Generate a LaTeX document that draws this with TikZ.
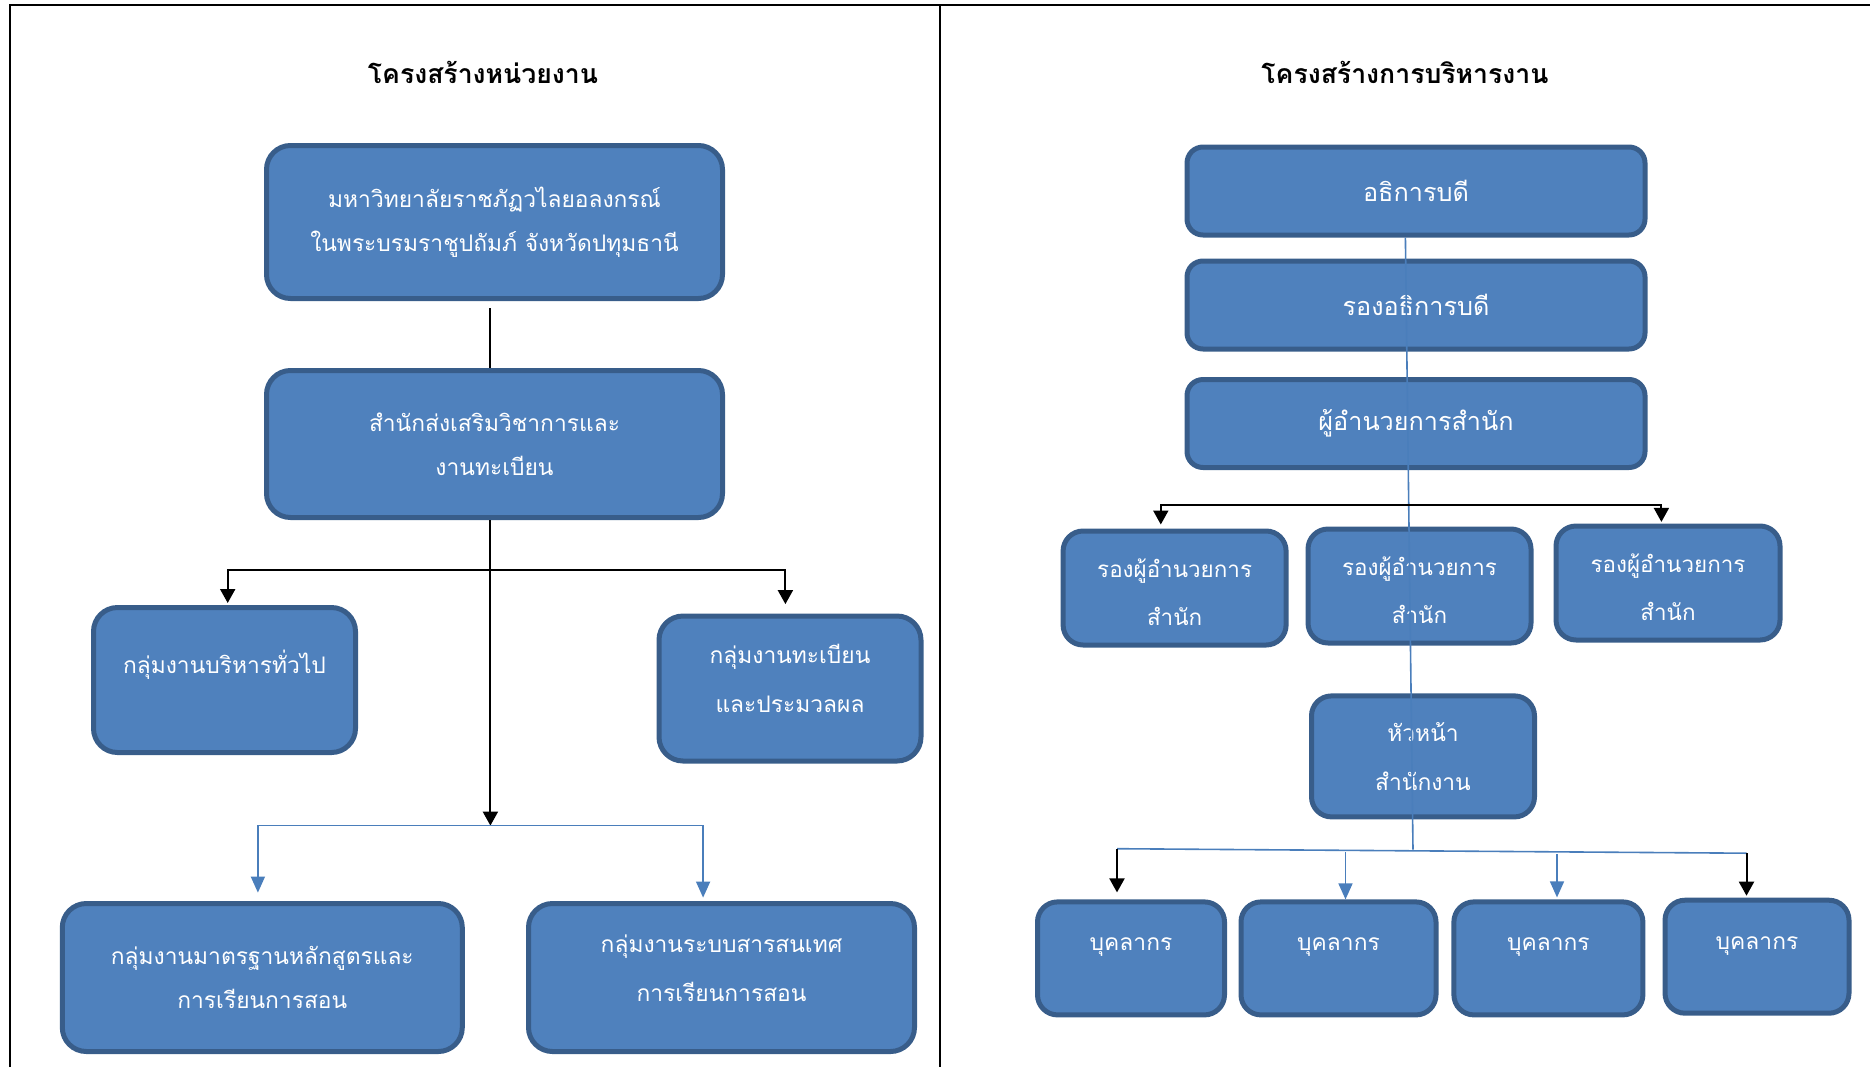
\documentclass[tikz,border=0pt]{standalone}
\usepackage{fontspec}
\newfontfamily\thai[Script=Thai]{Loma}
\usetikzlibrary{arrows.meta}

\definecolor{boxfill}{HTML}{4F81BD}
\definecolor{boxline}{HTML}{385D8A}
\definecolor{linkblue}{HTML}{4A7EBB}

\tikzset{
  unit/.style={draw=boxline, line width=2.5pt, fill=boxfill, rounded corners=12pt,
    text=white, align=center, inner sep=0pt,
    font=\thai\fontsize{11.4}{22}\selectfont},
  loose/.style={font=\thai\fontsize{11.4}{24.5}\selectfont},
  heading/.style={font=\thai\bfseries\fontsize{13.3}{16}\selectfont},
  frame/.style={line width=1pt},
  link/.style={line width=1pt},
  arrow/.style={link, -{Triangle[width=7.5pt,length=7pt]}},
  bluelink/.style={draw=linkblue, line width=0.8pt},
  bluearrow/.style={bluelink, -{Triangle[width=7pt,length=8pt]}}
}

\begin{document}
\begin{tikzpicture}[x=0.5pt, y=-0.5pt]
\useasboundingbox (0,0) rectangle (1870,1067);

% frame
\draw[frame] (9.6,1067) -- (9.6,4.8) -- (1870,4.8);
\draw[frame] (940,4.8) -- (940,1067);

\node[heading] (t1) at (483,72) {โครงสร้างหน่วยงาน};
\node[heading] (t2) at (1405,72) {โครงสร้างการบริหารงาน};

% left: units
\node[unit, minimum width=228pt, minimum height=76.5pt] (u) at (494.5,222) {มหาวิทยาลัยราชภัฏวไลยอลงกรณ์\\ในพระบรมราชูปถัมภ์ จังหวัดปทุมธานี};
\node[unit, minimum width=228pt, minimum height=73.5pt] (s) at (494.5,444) {สำนักส่งเสริมวิชาการและ\\งานทะเบียน};
\node[unit, minimum width=131pt, minimum height=72.5pt, text depth=18pt] (g1) at (224.5,680) {กลุ่มงานบริหารทั่วไป};
\node[unit, loose, minimum width=131pt, minimum height=72.5pt, text depth=10pt] (g2) at (790,688.5) {กลุ่มงานทะเบียน\\และประมวลผล};
\node[unit, minimum width=200pt, minimum height=74pt] (g3) at (262.3,977.5) {กลุ่มงานมาตรฐานหลักสูตรและ\\การเรียนการสอน};
\node[unit, loose, minimum width=193pt, minimum height=74pt, text depth=9pt] (g4) at (721.5,977.5) {กลุ่มงานระบบสารสนเทศ\\การเรียนการสอน};

\coordinate (trunk) at (490.4,569.5);
\coordinate (hubL) at (490.4,825.6);
\draw[link, shorten <=3.5pt] (u.south -| trunk) -- (s.north -| trunk);
\draw[arrow] (s.south -| trunk) -- (hubL);
\draw[arrow] (trunk) -| ([xshift=1.6pt,yshift=1pt]g1.north);
\draw[arrow] (trunk) -| ([xshift=-2.3pt,yshift=4.7pt]g2.north);
\draw[bluearrow] (hubL) -| ([xshift=-2.2pt,yshift=4.2pt]g3.north);
\draw[bluearrow] (hubL) -| ([xshift=-9.2pt,yshift=1.7pt]g4.north);

% right: administration
\node[unit, rounded corners=8pt, font=\thai\fontsize{12.6}{22}\selectfont, minimum width=229pt, minimum height=44pt] (a) at (1416,191) {อธิการบดี};
\node[unit, rounded corners=8pt, font=\thai\fontsize{12.6}{22}\selectfont, minimum width=229pt, minimum height=44pt] (b) at (1416,305) {รองอธิการบดี};
\node[unit, rounded corners=8pt, font=\thai\fontsize{12.6}{22}\selectfont, minimum width=229pt, minimum height=44pt] (c) at (1416,423.5) {ผู้อำนวยการสำนัก};
\node[unit, rounded corners=10pt, font=\thai\fontsize{11.2}{24}\selectfont, minimum width=111.5pt, minimum height=57pt, text height=40pt, text depth=3pt] (d1) at (1174.6,588) {รองผู้อำนวยการ\\สำนัก};
\node[unit, rounded corners=10pt, font=\thai\fontsize{11.2}{24}\selectfont, minimum width=111.5pt, minimum height=57pt, text height=40pt, text depth=3pt] (d2) at (1419.5,586) {รองผู้อำนวยการ\\สำนัก};
\node[unit, rounded corners=10pt, font=\thai\fontsize{11.2}{24}\selectfont, minimum width=112pt, minimum height=57pt, text height=40pt, text depth=3pt] (d3) at (1668,583) {รองผู้อำนวยการ\\สำนัก};
\node[unit, loose, rounded corners=10pt, minimum width=111.5pt, minimum height=60.5pt] (h) at (1423,756.4) {หัวหน้า\\สำนักงาน};
\node[unit, rounded corners=10pt, minimum width=93.5pt, minimum height=56.5pt, text depth=14pt] (p1) at (1131,958.4) {บุคลากร};
\node[unit, rounded corners=10pt, minimum width=97.5pt, minimum height=56.5pt, text depth=14pt] (p2) at (1338.5,958.4) {บุคลากร};
\node[unit, rounded corners=10pt, minimum width=94.5pt, minimum height=56.5pt, text depth=14pt] (p3) at (1548.4,958.4) {บุคลากร};
\node[unit, rounded corners=10pt, minimum width=92pt, minimum height=56.5pt, text depth=14pt] (p4) at (1757,956.7) {บุคลากร};

\coordinate (spine) at (1413,849.7);
\coordinate (jC) at (1408.5,504.5);
\coordinate (barL) at (1117,848.7);
\coordinate (barR) at (1746.5,853.2);
\draw[bluelink] ([xshift=-5.3pt]a.south) -- (spine);
\draw[arrow] (jC) -| ([xshift=-6.9pt,yshift=2pt]d1.north);
\draw[arrow] (jC) -| ([xshift=-3.3pt,yshift=0.8pt]d3.north);
\draw[bluelink] (barL) -- (barR);
\draw[arrow, shorten >=3.5pt] (barL) -- (barL |- p1.north);
\draw[arrow, shorten >=1pt] (barR) -- (barR |- p4.north);
\draw[bluearrow] ([xshift=3.5pt,yshift=23.5pt]p2.north) -- ([xshift=3.5pt]p2.north);
\draw[bluearrow] ([xshift=4.3pt,yshift=22.5pt]p3.north) -- ([xshift=4.3pt,yshift=1pt]p3.north);
\end{tikzpicture}
\end{document}
